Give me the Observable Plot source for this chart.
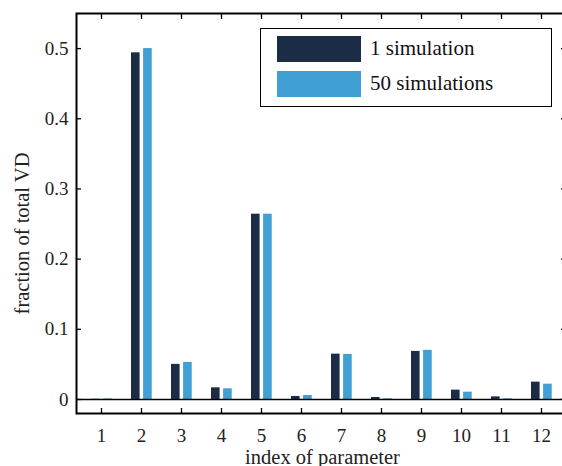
<!DOCTYPE html>
<html>
<head>
<meta charset="utf-8">
<script src="https://cdn.jsdelivr.net/npm/d3@7"></script>
<script src="https://cdn.jsdelivr.net/npm/@observablehq/plot@0.6"></script>
<style>
html, body { margin: 0; padding: 0; background: #fff; overflow: hidden; }
#wrap { position: relative; width: 562px; height: 466px; overflow: hidden; }
#legend { position: absolute; left: 260px; top: 27.5px; width: 290px; height: 77px; border: 1.5px solid #000; background: #fff; font-family: "Liberation Serif", "Times New Roman", serif; font-size: 21px; color: #111; }
.row { position: absolute; left: 16px; height: 26px; display: flex; align-items: center; }
.sw { width: 84px; height: 26px; margin-right: 9px; }
</style>
</head>
<body>
<div id="wrap"></div>
<script>
// ---- data ----
const paramIndex = ["1","2","3","4","5","6","7","8","9","10","11","12"];
const oneSimulation = [0.0003, 0.494, 0.050, 0.0166, 0.264, 0.0043, 0.0646, 0.0028, 0.0685, 0.0133, 0.0037, 0.0247];
const fiftySimulations = [0.0008, 0.500, 0.0528, 0.0152, 0.264, 0.0057, 0.0642, 0.0010, 0.0700, 0.0104, 0.0010, 0.0218];
const seriesNames = ["1 simulation", "50 simulations"];
const seriesColors = ["#1b2c47", "#409fd3"];
const yTickValues = [0, 0.1, 0.2, 0.3, 0.4, 0.5];
const yTickLabels = ["0", "0.1", "0.2", "0.3", "0.4", "0.5"];

const rowsOne = paramIndex.map((k, i) => ({idx: k, v: oneSimulation[i]}));
const rowsFifty = paramIndex.map((k, i) => ({idx: k, v: fiftySimulations[i]}));
const blank = () => "";

const chart = Plot.plot({
  width: 562,
  height: 466,
  marginLeft: 76,
  marginRight: 0,
  marginTop: 13,
  marginBottom: 53,
  style: {fontFamily: "'Liberation Serif', 'Times New Roman', serif", fontSize: "19px", background: "#fff", color: "#111"},
  x: {type: "band", domain: paramIndex, range: [76, 565], padding: 0, label: null, axis: null},
  y: {domain: [-0.02, 0.55], label: null, axis: null},
  marks: [
    Plot.barY(rowsOne, {x: "idx", y: "v", fill: seriesColors[0], insetLeft: 10, insetRight: 21.4}),
    Plot.barY(rowsFifty, {x: "idx", y: "v", fill: seriesColors[1], insetLeft: 22.1, insetRight: 9.3}),
    Plot.ruleY([0], {stroke: "#000", strokeWidth: 1.6}),
    Plot.frame({stroke: "#000", strokeWidth: 2, insetRight: -3}),
    // inward tick marks
    Plot.axisY(yTickValues, {anchor: "left", tickSize: 5, dx: 5, tickFormat: blank, label: null, stroke: "#000", strokeWidth: 1.3}),
    Plot.axisY(yTickValues, {anchor: "right", tickSize: 5, dx: -2, tickFormat: blank, label: null, stroke: "#000", strokeWidth: 1.3}),
    Plot.axisX({anchor: "top", tickSize: 5, dy: 5, tickFormat: blank, label: null, stroke: "#000", strokeWidth: 1.3}),
    Plot.axisX({anchor: "bottom", tickSize: 5, dy: -5, tickFormat: blank, label: null, stroke: "#000", strokeWidth: 1.3}),
    // tick labels
    Plot.axisY(yTickValues, {anchor: "left", tickSize: 0, tickPadding: 8, tickFormat: (d, i) => yTickLabels[i], label: null, fontSize: 19, fill: "#222"}),
    Plot.axisX({anchor: "bottom", tickSize: 0, tickPadding: 15, label: null, fontSize: 19, fill: "#222"}),
    // axis titles
    Plot.text(["fraction of total VD"], {text: d => d, frameAnchor: "left", dx: -54, dy: 20, rotate: -90, fontSize: 20.5, textAnchor: "middle", lineAnchor: "middle", fill: "#222"}),
    Plot.text(["index of parameter"], {text: d => d, frameAnchor: "bottom", dx: 3, dy: 44, fontSize: 20.5, textAnchor: "middle", lineAnchor: "middle", fill: "#222"})
  ]
});
const wrap = document.getElementById("wrap");
wrap.appendChild(chart);

// legend (inside plot, upper right)
const legend = document.createElement("div");
legend.id = "legend";
seriesNames.forEach((name, i) => {
  const row = document.createElement("div");
  row.className = "row";
  row.style.top = (i === 0 ? 7 : 42) + "px";
  const sw = document.createElement("div");
  sw.className = "sw";
  sw.style.background = seriesColors[i];
  const lab = document.createElement("span");
  lab.textContent = name;
  row.appendChild(sw);
  row.appendChild(lab);
  legend.appendChild(row);
});
wrap.appendChild(legend);
</script>
</body>
</html>
